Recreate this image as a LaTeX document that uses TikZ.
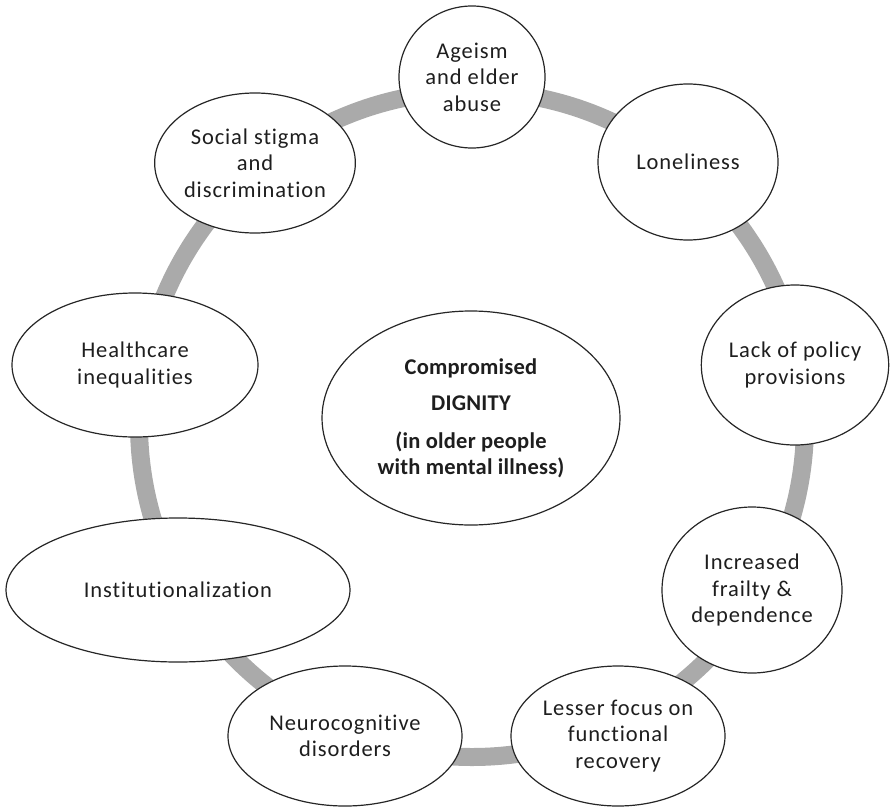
\documentclass[tikz,border=0pt]{standalone}
\usepackage{fontspec}
\setmainfont{Carlito}[LetterSpace=4, Ligatures=NoCommon, BoldFeatures={LetterSpace=1}]
\usetikzlibrary{shapes.geometric}
\definecolor{ringgray}{RGB}{170,170,170}
\definecolor{txt}{RGB}{30,30,30}
\tikzset{
  bub/.style={ellipse, draw=black!85, line width=1.2pt, fill=white, inner sep=0pt,
    align=center, font=\fontsize{22.5}{26.5}\selectfont, text=txt},
  ring/.style={draw=ringgray, line width=18pt}
}
\begin{document}
\begin{tikzpicture}[x=1pt,y=-1pt]
\useasboundingbox (0,0) rectangle (893,808);
\coordinate (o) at (472,424);
\draw[ring] (o) circle[radius=333pt];
\node[bub, minimum width=146pt, minimum height=142pt] (age) at (472,77) {Ageism\\and elder\\abuse};
\node[bub, minimum width=180pt, minimum height=156pt] (lone) at (688,162) {Loneliness};
\node[bub, minimum width=184pt, minimum height=140pt] (stig) at (255,163) {Social stigma\\and\\discrimination};
\node[bub, minimum width=246pt, minimum height=144pt] (hc) at (135,365) {Healthcare\\inequalities};
\node[bub, minimum width=180pt, minimum height=160pt] (pol) at (795,365) {Lack of policy\\provisions};
\node[bub, minimum width=298pt, minimum height=214pt, font=\fontsize{22.5}{26}\selectfont\bfseries] (dig) at (471,418) {Compromised\\[10pt]DIGNITY\\[12pt](in older people\\with mental illness)};
\node[bub, minimum width=344pt, minimum height=144pt] (inst) at (178,590) {Institutionalization};
\node[bub, minimum width=180pt, minimum height=166pt] (frail) at (752,590) {Increased\\frailty \&\\dependence};
\node[bub, minimum width=234pt, minimum height=140pt] (neuro) at (345,736) {Neurocognitive\\disorders};
\node[bub, minimum width=214pt, minimum height=140pt] (less) at (618,736) {Lesser focus on\\functional\\recovery};
\end{tikzpicture}
\end{document}
